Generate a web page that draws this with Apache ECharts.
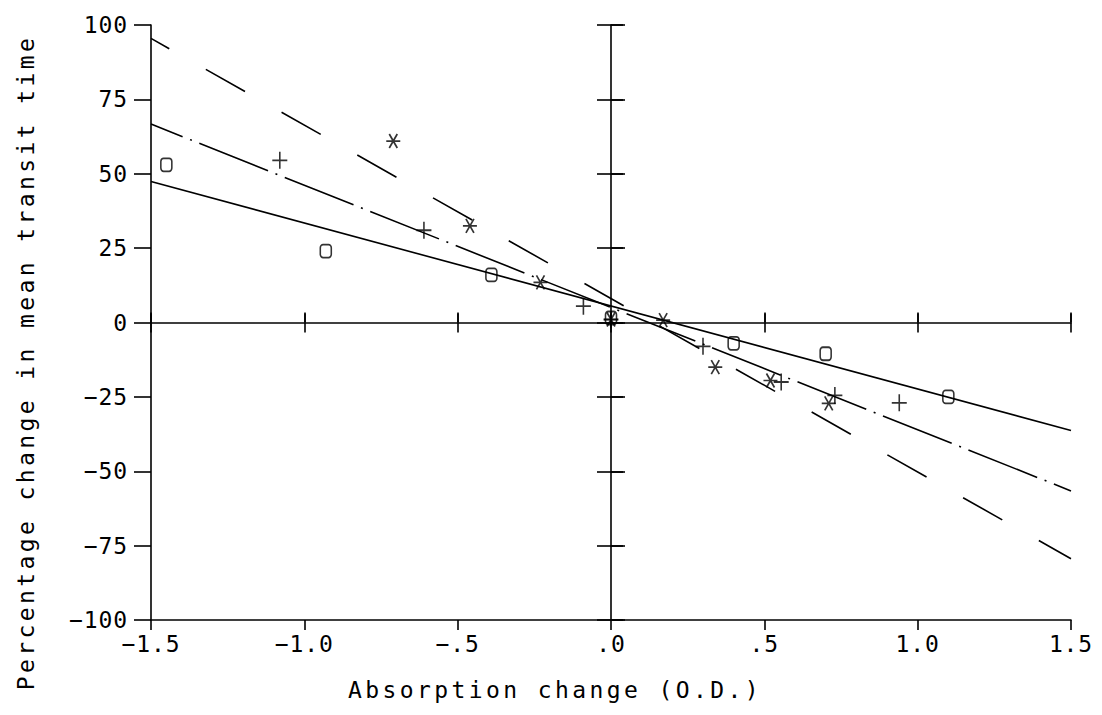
<!DOCTYPE html>
<html>
<head>
<meta charset="utf-8">
<title>Transit time vs absorption change</title>
<script src="https://cdn.jsdelivr.net/npm/echarts@6/dist/echarts.min.js"></script>
<style>
    html, body { margin: 0; padding: 0; background: #fff; }
    #chart { width: 1102px; height: 715px; }
    /* plotter-style wide lettering */
    #chart svg text { letter-spacing: 0.9px; }
    #chart svg text[style*="monospace"] { letter-spacing: 3.4px; }
</style>
</head>
<body>
<div id="chart"></div>
<script>
    // o - points and their solid fitted line
    const circleX = [-1.45, -0.93, -0.39, 0.0, 0.40, 0.70, 1.10];
    const circleY = [53, 24, 16, 1.5, -7, -10.5, -25];
    // + - points and their dash-dot line
    const plusX = [-1.08, -0.61, -0.09, 0.0, 0.30, 0.555, 0.73, 0.94];
    const plusY = [54.5, 31, 5.5, 1, -8, -20, -24.5, -27];
    // * - points and their dashed line
    const starX = [-0.71, -0.46, -0.23, 0.0, 0.17, 0.34, 0.52, 0.71];
    const starY = [61, 32.5, 13.5, 1, 0.8, -15, -19.5, -27.2];

    const lineX = [-1.5, 1.5];
    const solidY = [47.4, -36.3];
    const dashDotY = [66.7, -56.6];
    const dashedY = [95.5, -79.4];

    const xTickValues = [-1.5, -1.0, -0.5, 0, 0.5, 1.0, 1.5];
    const xTickLabels = ['\u22121.5', '\u22121.0', '\u2212.5', '.0', '.5', '1.0', '1.5'];
    const yTickValues = [-100, -75, -50, -25, 0, 25, 50, 75, 100];
    const yTickLabels = ['\u2212100', '\u221275', '\u221250', '\u221225', '0', '25', '50', '75', '100'];

    function pairs (xs, ys) {
        return xs.map((x, i) => [x, ys[i]]);
    }

    function lookup (values, labels, v) {
        let best = 0;
        values.forEach((t, i) => {
            if (Math.abs(t - v) < Math.abs(values[best] - v)) best = i;
        });
        return labels[best];
    }

    const INK = '#000';
    const tickFont = 'DejaVu Sans Mono';
    const titleFont = "'DejaVu Sans Mono', monospace";

    /* one axis pair draws the outer half of the crossing ticks, the other the inner half */
    function xAxisPart (opts) {
        return Object.assign({
            type: 'value',
            min: -1.5,
            max: 1.5,
            interval: 0.5,
            position: 'bottom',
            splitLine: { show: false },
            axisLabel: { show: false },
            axisLine: { show: true, onZero: false, lineStyle: { color: INK, width: 1.6 } },
            axisTick: { show: true, length: 10, lineStyle: { color: INK, width: 1.6 } }
        }, opts);
    }

    function yAxisPart (opts) {
        return Object.assign({
            type: 'value',
            min: -100,
            max: 100,
            interval: 25,
            position: 'left',
            splitLine: { show: false },
            axisLabel: { show: false },
            axisLine: { show: true, onZero: false, lineStyle: { color: INK, width: 1.6 } },
            axisTick: { show: true, length: 14, lineStyle: { color: INK, width: 1.6 } }
        }, opts);
    }

    const chart = echarts.init(document.getElementById('chart'), null, { renderer: 'svg' });

    chart.setOption({
        animation: false,
        backgroundColor: '#fff',
        textStyle: { fontFamily: tickFont, color: INK },
        grid: { left: 151, right: 31, top: 25, bottom: 95, outerBoundsMode: 'none' },
        xAxis: [
            xAxisPart({
                name: 'Absorption change (O.D.)',
                nameLocation: 'middle',
                nameGap: 58,
                // title sits left of the axis centre in the original
                nameTextStyle: { fontFamily: titleFont, fontSize: 23, color: INK, padding: [0, 112, 0, 0] },
                axisTick: { show: true, length: 10, lineStyle: { color: INK, width: 1.6 } },
                axisLabel: {
                    show: true,
                    margin: 12,
                    fontSize: 23,
                    color: INK,
                    fontFamily: tickFont,
                    formatter: (v) => lookup(xTickValues, xTickLabels, v)
                }
            }),
            xAxisPart({ axisLine: { show: false }, axisTick: { show: true, inside: true, length: 9, lineStyle: { color: INK, width: 1.6 } } }),
            xAxisPart({ axisLine: { show: true, onZero: true, onZeroAxisIndex: 0, lineStyle: { color: INK, width: 1.6 } } }),
            xAxisPart({ axisLine: { show: false, onZero: true, onZeroAxisIndex: 0 }, axisTick: { show: true, inside: true, length: 10, lineStyle: { color: INK, width: 1.6 } } })
        ],
        yAxis: [
            yAxisPart({
                name: 'Percentage change in mean transit time',
                nameLocation: 'middle',
                nameGap: 114,
                // shifted downwards, as in the original
                nameTextStyle: { fontFamily: titleFont, fontSize: 23, color: INK, padding: [0, 80, 0, 0] },
                axisTick: { show: true, length: 17, lineStyle: { color: INK, width: 1.6 } },
                axisLabel: {
                    show: true,
                    margin: 23,
                    fontSize: 23,
                    color: INK,
                    fontFamily: tickFont,
                    formatter: (v) => lookup(yTickValues, yTickLabels, v)
                }
            }),
            yAxisPart({ axisLine: { show: false }, axisTick: { show: true, inside: true, length: 12, lineStyle: { color: INK, width: 1.6 } } }),
            yAxisPart({ axisLine: { show: true, onZero: true, onZeroAxisIndex: 0, lineStyle: { color: INK, width: 1.6 } } }),
            yAxisPart({ axisLine: { show: false, onZero: true, onZeroAxisIndex: 0 }, axisTick: { show: true, inside: true, length: 14, lineStyle: { color: INK, width: 1.6 } } })
        ],
        series: [
            {
                name: 'o fit',
                type: 'line',
                data: pairs(lineX, solidY),
                showSymbol: false,
                symbol: 'none',
                lineStyle: { color: INK, width: 1.6, type: 'solid' },
                z: 2
            },
            {
                name: '+ fit',
                type: 'line',
                data: pairs(lineX, dashDotY),
                showSymbol: false,
                symbol: 'none',
                lineStyle: { color: INK, width: 1.6, type: [74, 8, 2, 8], dashOffset: 40 },
                z: 2
            },
            {
                name: '* fit',
                type: 'line',
                data: pairs(lineX, dashedY),
                showSymbol: false,
                symbol: 'none',
                lineStyle: { color: INK, width: 1.6, type: [45, 42], dashOffset: 24 },
                z: 2
            },
            {
                name: 'o',
                type: 'scatter',
                data: pairs(circleX, circleY),
                symbol: 'roundRect',
                symbolSize: [11, 13],
                itemStyle: { color: 'rgba(0,0,0,0)', borderColor: INK, borderWidth: 1.7 },
                z: 3
            },
            {
                name: '+',
                type: 'scatter',
                data: pairs(plusX, plusY),
                symbol: 'path://M0,8.5L15,8.5M7.5,0L7.5,17',
                symbolSize: [15, 17],
                itemStyle: { color: 'rgba(0,0,0,0)', borderColor: INK, borderWidth: 1.7 },
                z: 3
            },
            {
                name: '*',
                type: 'scatter',
                data: pairs(starX, starY),
                symbol: 'path://M0,7L14,7M3,0L11,14M11,0L3,14',
                symbolSize: [14, 14],
                itemStyle: { color: 'rgba(0,0,0,0)', borderColor: INK, borderWidth: 1.7 },
                z: 3
            }
        ]
    });
</script>
</body>
</html>
